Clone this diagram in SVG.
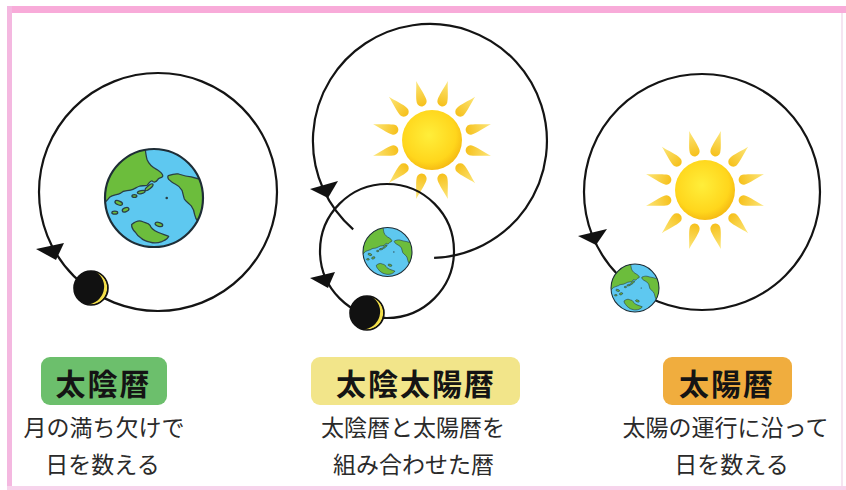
<svg xmlns="http://www.w3.org/2000/svg" xmlns:xlink="http://www.w3.org/1999/xlink" width="846" height="490" viewBox="0 0 846 490">
  <style>
    .orbit { fill: none; stroke: #141414; stroke-width: 2.2; }
    .head { fill: #111; }
    .title { font-family: "Noto Sans CJK JP", "Noto Sans", sans-serif; font-weight: 700; font-size: 30px; letter-spacing: 2px; fill: #141414; text-anchor: middle; }
    .desc { font-family: "Noto Sans CJK JP", "Noto Sans", sans-serif; font-weight: 400; font-size: 23px; fill: #2a2a2a; text-anchor: middle; }
    .land { fill: #6CBD3C; stroke: #2A3F45; stroke-width: 1.3; stroke-linejoin: round; }
  </style>
  <defs>
    <clipPath id="globe-clip"><circle r="50"/></clipPath>
    <radialGradient id="disk-grad" cx="0.45" cy="0.42" r="0.6">
      <stop offset="0" stop-color="#FFEE3A"/>
      <stop offset="0.75" stop-color="#FFD61C"/>
      <stop offset="1" stop-color="#F5B912"/>
    </radialGradient>
    <linearGradient id="ray-grad" gradientUnits="userSpaceOnUse" x1="0" y1="-35" x2="0" y2="-61">
      <stop offset="0" stop-color="#F6C01A"/>
      <stop offset="1" stop-color="#FCE67A"/>
    </linearGradient>

    <!-- globe drawn at radius 50, centred on the origin -->
    <g id="globe">
      <circle r="50" fill="#5EC8F0"/>
      <g clip-path="url(#globe-clip)" class="land">
        <path d="M -60,-60 L -9,-60 L -9.2,-51.7 C -8.5,-46 -8,-42 -7,-39 C -5,-34 -1,-31 3,-29 C 6,-27 9,-25 9,-22.5 C 8,-20 5,-21 4,-19 C 2,-16 0,-15.5 -2,-17.5 C -4,-18 -5,-15 -7,-13 C -10,-12 -13,-13 -15,-12 C -18,-11 -20,-9 -24,-8 C -28,-7 -31,-8 -34,-5 C -38,-3 -42,-3 -45,-1 C -47,1 -48,3 -50,4 L -60,5 Z"/>
        <ellipse cx="-5" cy="-11" rx="5" ry="1.7" transform="rotate(-40 -5 -11)"/>
        <ellipse cx="-13" cy="-6" rx="4" ry="1.5" transform="rotate(-12 -13 -6)"/>
        <ellipse cx="-20" cy="-2" rx="2.5" ry="1.4"/>
        <ellipse cx="-36" cy="5" rx="4" ry="2" transform="rotate(20 -36 5)"/>
        <ellipse cx="-29" cy="12" rx="3.5" ry="2" transform="rotate(-20 -29 12)"/>
        <ellipse cx="-40" cy="15" rx="3" ry="1.5"/>
        <path d="M -22.8,27 C -19,24 -15,22.5 -12,24 C -9,25.5 -6,25 -4,28 C -3,31 0,33 4,35 C 8,37 12,37.5 15,39 C 14,42 11,43 8,44.5 C 4,46 -1,46 -4,45 C -8,44 -11,43 -13,41 C -16,39 -18,37 -19,35 C -21,33 -23,30 -22.8,27 Z"/>
        <ellipse cx="5" cy="27" rx="4" ry="2" transform="rotate(15 5 27)"/>
        <path d="M 14.6,-22.8 C 18,-24 21,-25 25,-24.5 C 30,-23 34,-22 38,-21.5 C 43,-20 47,-19 52,-18 L 60,-18 L 60,30 L 52,27 C 48,26 46,25 45,24 C 43,22 42,20 41.5,17 C 41,13 39.5,10 38,8 C 35,5 32,3 31,1 C 30,-2 29.5,-5 28.5,-8 C 27,-11 25,-12.5 22,-14 C 19,-15.5 17,-17 15,-19 C 14,-20.5 13.5,-21.5 14.6,-22.8 Z"/>
        <circle cx="13" cy="0" r="1.3" fill="#2A3F45" stroke="none"/>
      </g>
      <circle r="50" fill="none" stroke="#1E2D36" stroke-width="2.2"/>
    </g>

    <!-- crescent moon, radius 17 -->
    <g id="moon">
      <circle r="17" fill="#111"/>
      <path d="M 4.4,-16.4 A 17 17 0 0 1 -4.4,16.4 A 17.6 17.6 0 0 0 4.4,-16.4 Z" fill="#F3DF4A"/>
      <circle r="17" fill="none" stroke="#111" stroke-width="1.6"/>
    </g>

    <!-- one sun ray pointing up: wide end near the disk, point outward -->
    <path id="ray" d="M 0,-61 C 1.5,-54 5,-45 5,-40 A 5 5 0 0 1 -5,-40 C -5,-45 -1.5,-54 0,-61 Z" fill="url(#ray-grad)"/>

    <g id="sun">
      <use xlink:href="#ray" transform="rotate(15)"/>
      <use xlink:href="#ray" transform="rotate(45)"/>
      <use xlink:href="#ray" transform="rotate(75)"/>
      <use xlink:href="#ray" transform="rotate(105)"/>
      <use xlink:href="#ray" transform="rotate(135)"/>
      <use xlink:href="#ray" transform="rotate(165)"/>
      <use xlink:href="#ray" transform="rotate(195)"/>
      <use xlink:href="#ray" transform="rotate(225)"/>
      <use xlink:href="#ray" transform="rotate(255)"/>
      <use xlink:href="#ray" transform="rotate(285)"/>
      <use xlink:href="#ray" transform="rotate(315)"/>
      <use xlink:href="#ray" transform="rotate(345)"/>
      <circle r="30" fill="url(#disk-grad)"/>
    </g>
  </defs>

  <rect width="846" height="490" fill="#FFFFFF"/>

  <!-- pink frame -->
  <g id="frame">
    <rect x="7" y="6" width="839" height="7" fill="#F8ABD9"/>
    <rect x="7" y="6" width="5" height="484" fill="#F4B8E0"/>
    <rect x="7" y="486" width="839" height="4" fill="#F7D3EB"/>
    <rect x="841" y="13" width="2" height="473" fill="#F5E4F1"/>
  </g>

  <!-- suns -->
  <g id="sun-center"><use xlink:href="#sun" transform="translate(432 140)"/></g>
  <g id="sun-right"><use xlink:href="#sun" transform="translate(705 190)"/></g>

  <!-- orbits and arrowheads -->
  <g id="connectors">
    <circle class="orbit" cx="158" cy="192" r="119"/>
    <polygon class="head" points="36,249 64,243 56,260"/>

    <path class="orbit" d="M 434.1,257.9 A 117 117 0 1 0 353.2,229.3"/>
    <polygon class="head" points="310,189 338,181 328,198"/>

    <circle class="orbit" cx="387" cy="251" r="67"/>
    <polygon class="head" points="310,278 335,272 328,288"/>

    <circle class="orbit" cx="702" cy="192" r="118"/>
    <polygon class="head" points="578,236 607,229 596,245"/>
  </g>

  <!-- bodies -->
  <g id="earth-left"><use xlink:href="#globe" transform="translate(154 198) scale(0.98)"/></g>
  <g id="moon-left"><use xlink:href="#moon" transform="translate(91 288)"/></g>

  <g id="earth-center"><use xlink:href="#globe" transform="translate(387.5 252) scale(0.49)"/></g>
  <g id="moon-center"><use xlink:href="#moon" transform="translate(367 313)"/></g>

  <g id="earth-right"><use xlink:href="#globe" transform="translate(635 288) scale(0.48)"/></g>

  <!-- labels -->
  <g id="label-lunar">
    <rect x="41" y="357" width="126" height="48" rx="9" fill="#6CBF6C"/>
    <text class="title" x="103.5" y="395">太陰暦</text>
    <text class="desc" x="104" y="436">月の満ち欠けで</text>
    <text class="desc" x="102.5" y="473">日を数える</text>
  </g>

  <g id="label-lunisolar">
    <rect x="311" y="357" width="209" height="48" rx="9" fill="#F2E58A"/>
    <text class="title" x="416" y="395">太陰太陽暦</text>
    <text class="desc" x="413" y="436">太陰暦と太陽暦を</text>
    <text class="desc" x="413.5" y="473">組み合わせた暦</text>
  </g>

  <g id="label-solar">
    <rect x="663" y="357" width="129" height="48" rx="9" fill="#F0AD3E"/>
    <text class="title" x="727" y="395">太陽暦</text>
    <text class="desc" x="725.5" y="436">太陽の運行に沿って</text>
    <text class="desc" x="731.5" y="473">日を数える</text>
  </g>
</svg>
